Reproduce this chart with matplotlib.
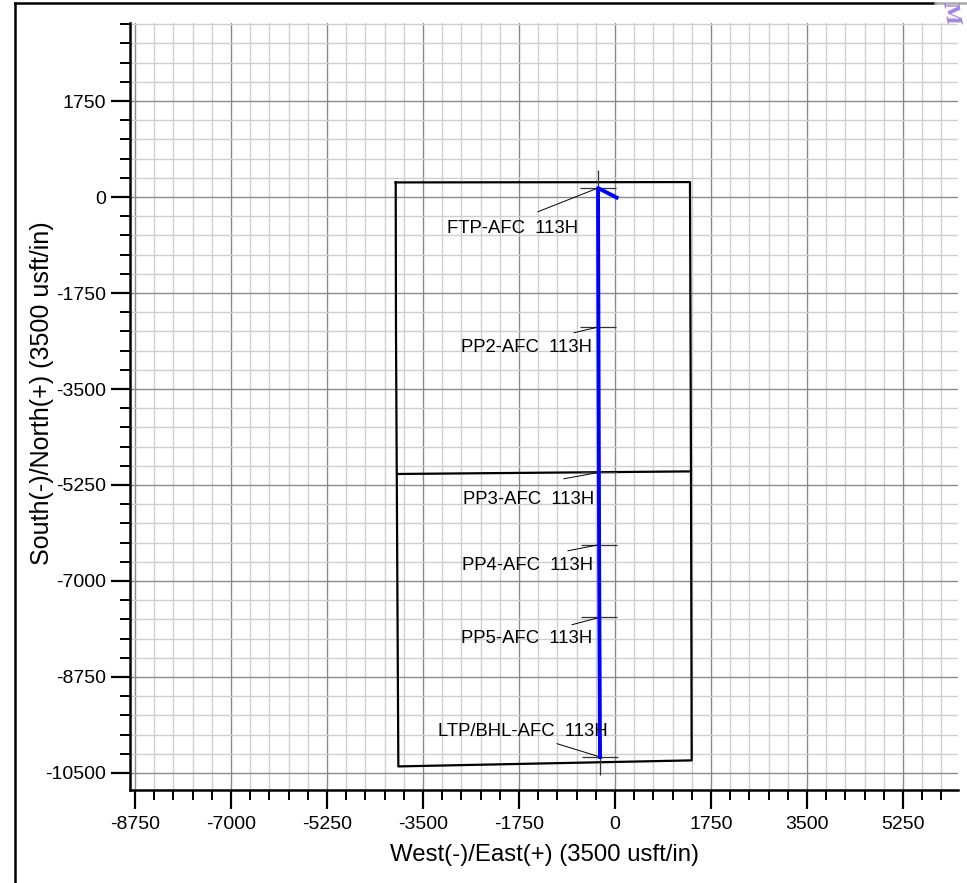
import matplotlib.pyplot as plt
from matplotlib.lines import Line2D
from matplotlib.ticker import MultipleLocator

plt.rcParams['font.family'] = ['Liberation Sans', 'DejaVu Sans']
plt.rcParams['axes.unicode_minus'] = False

# lease / section boundary (usft, E-W and N-S)
lease_x = [-3998, 1367, 1385, 1398, -3950, -3993, -3998]
lease_y = [266, 272, -5002, -10270, -10380, -2424, 266]
midline_x = [-3968, 1385]
midline_y = [-5049, -5002]

# planned well path
well_x = [30, -310, -302, -294, -290, -285, -273]
well_y = [-10, 164, -2370, -5020, -6338, -7664, -10208]

# targets
target_names = ["FTP-AFC  113H", "PP2-AFC  113H", "PP3-AFC  113H",
                "PP4-AFC  113H", "PP5-AFC  113H", "LTP/BHL-AFC  113H"]
target_x = [-310, -302, -294, -290, -285, -273]
target_y = [164, -2370, -5020, -6338, -7664, -10208]

# label anchors (right edge, baseline) and leader line starts
label_x = [-674, -419, -383, -401, -419, -128]
label_y = [-651, -2833, -5591, -6807, -8138, -9832]
leader_x = [-1404, -747, -930, -857, -784, -1057]
leader_y = [-268, -2474, -5136, -6449, -7797, -9966]

fig = plt.figure(figsize=(9.67, 8.83), dpi=100)
ax = fig.add_axes([130 / 967, 1 - 790 / 883, 828 / 967, 767 / 883])

ax.set_xlim(-8842, 6253)
ax.set_ylim(-10810, 3172)

ax.xaxis.set_major_locator(MultipleLocator(1750))
ax.xaxis.set_minor_locator(MultipleLocator(350))
ax.yaxis.set_major_locator(MultipleLocator(1750))
ax.yaxis.set_minor_locator(MultipleLocator(350))
ax.grid(which='minor', color='#cfcfcf', linewidth=1.0)
ax.grid(which='major', color='#8a8a8a', linewidth=1.0)
ax.set_axisbelow(True)

ax.spines['top'].set_visible(False)
ax.spines['right'].set_visible(False)
ax.spines['left'].set_linewidth(1.8)
ax.spines['bottom'].set_linewidth(1.8)
ax.tick_params(which='major', length=14, width=1.6, labelsize=14, pad=3)
ax.tick_params(which='minor', length=7, width=1.4)
ax.tick_params(axis='x', which='major', pad=5)

ax.plot(lease_x, lease_y, color='black', linewidth=1.6)
ax.plot(midline_x, midline_y, color='black', linewidth=1.6)

ax.plot(target_x, target_y, linestyle='none', marker='+', markersize=26.5,
        markeredgewidth=0.9, color='#333333', zorder=3)
ax.plot(well_x, well_y, color='#0000ff', linewidth=2.8, zorder=4)

for name, tx, ty, lx, ly, px, py in zip(target_names, label_x, label_y,
                                        leader_x, leader_y, target_x, target_y):
    ax.plot([lx, px], [ly, py], color='black', linewidth=0.7, zorder=3)
    ax.text(tx, ty, name, ha='right', va='baseline', fontsize=13.3, zorder=5)

ax.set_xlabel("West(-)/East(+) (3500 usft/in)", fontsize=17.3)
ax.set_ylabel("South(-)/North(+) (3500 usft/in)", fontsize=18)
ax.xaxis.set_label_coords(0.5, -0.07)
ax.yaxis.set_label_coords(-0.092, 0.518)

# page frame and corner mark
fig.add_artist(Line2D([15 / 967, 15 / 967], [0, 1 - 3 / 883], color='black',
                      linewidth=1.8, transform=fig.transFigure))
fig.add_artist(Line2D([15 / 967, 935 / 967], [1 - 3 / 883, 1 - 3 / 883],
                      color='black', linewidth=1.8, transform=fig.transFigure))
fig.add_artist(Line2D([935 / 967, 1], [1 - 3 / 883, 1 - 3 / 883],
                      color='#aaaaaa', linewidth=1.8, transform=fig.transFigure))
fig.text(952 / 967, 1 - 12 / 883, "M", color='#9370db', fontsize=15,
         style='italic', fontweight='bold', family='DejaVu Serif',
         rotation=-80, ha='center', va='center', alpha=0.85)

fig.savefig("out.png", dpi=100)
